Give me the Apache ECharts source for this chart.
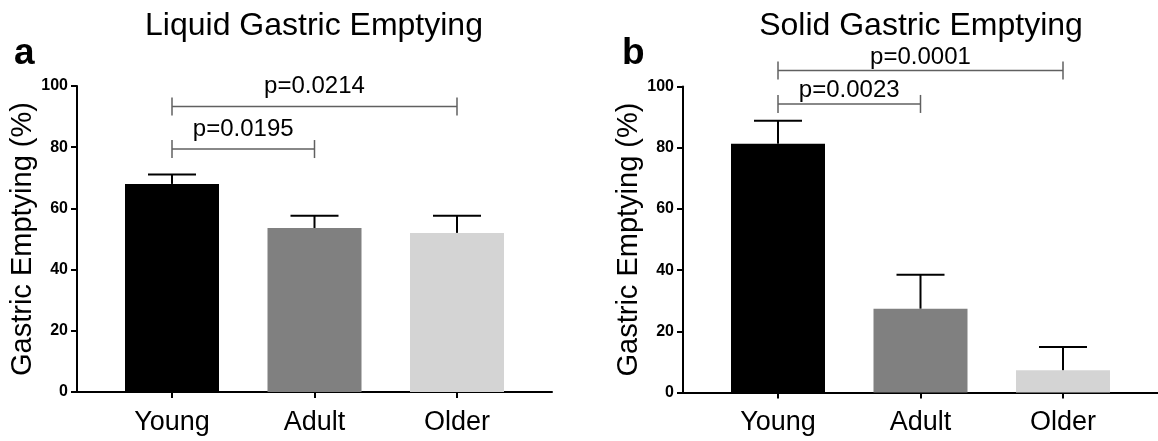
<!DOCTYPE html>
<html><head><meta charset="utf-8">
<script src="https://cdn.jsdelivr.net/npm/echarts@6/dist/echarts.min.js"></script>
<style>html,body{margin:0;padding:0;background:#fff}#c{width:1158px;height:441px}</style>
</head><body><div id="c"></div>
<script>
// ---- data ----
const categories = ['Young', 'Adult', 'Older'];
const liquidMean = [68.0, 53.6, 52.0];
const liquidErr = [3.1, 4.0, 5.6];
const solidMean = [81.3, 27.4, 7.3];
const solidErr = [7.5, 11.1, 7.6];
const yTicks = [0, 20, 40, 60, 80, 100];
// brackets: [from category index, to category index, bracket level (%)]
const liquidBrackets = [[0, 2, 93.3], [0, 1, 79.4]];
const liquidPLabels = ['p=0.0214', 'p=0.0195'];
const solidBrackets = [[0, 2, 105.2], [0, 1, 94.3]];
const solidPLabels = ['p=0.0001', 'p=0.0023'];
const panelTitles = ['Liquid Gastric Emptying', 'Solid Gastric Emptying'];
const panelLetters = ['a', 'b'];
const yName = 'Gastric Emptying (%)';

// ---- styles ----
const FONT = '"Liberation Sans", Arial, Helvetica, sans-serif';
const barColors = ['#000000', '#808080', '#d4d4d4'];

const chart = echarts.init(document.getElementById('c'), null, {renderer: 'canvas'});

function xAxis(gi) {
  return {
    type: 'value', gridIndex: gi, min: -0.6667, max: 2.6667,
    splitLine: {show: false},
    axisLine: {show: true, onZero: false, lineStyle: {color: '#000', width: 2}},
    axisTick: {show: true, customValues: [0, 1, 2], length: 6, lineStyle: {color: '#000', width: 2}},
    axisLabel: {show: true, customValues: [0, 1, 2], margin: 17, color: '#000',
      fontSize: 27, fontFamily: FONT, formatter: v => categories[Math.round(v)] || ''}
  };
}
function yAxis(gi) {
  return {
    type: 'value', gridIndex: gi, min: 0, max: 100, interval: 20,
    name: yName, nameLocation: 'middle', nameRotate: 90, nameGap: 35,
    nameTextStyle: {fontSize: 29, fontFamily: FONT, color: '#000'},
    splitLine: {show: false},
    axisLine: {show: true, onZero: false, lineStyle: {color: '#000', width: 2}},
    axisTick: {show: true, length: 6, lineStyle: {color: '#000', width: 2}},
    axisLabel: {margin: 9, color: '#000', fontSize: 16, fontWeight: 'bold', fontFamily: FONT,
      customValues: yTicks}
  };
}
function barSeries(gi, means) {
  return {
    type: 'bar', xAxisIndex: gi, yAxisIndex: gi, barWidth: 94, silent: true,
    data: means.map((m, i) => ({value: [i, m], itemStyle: {color: barColors[i]}}))
  };
}
function errSeries(gi, means, errs) {
  return {
    type: 'custom', xAxisIndex: gi, yAxisIndex: gi, clip: false, silent: true, z: 5,
    data: means.map((m, i) => [i, m, errs[i]]),
    renderItem: (params, api) => {
      const x = api.value(0), m = api.value(1), e = api.value(2);
      const p0 = api.coord([x, m]), p1 = api.coord([x, m + e]);
      const half = 24;
      const st = {stroke: '#000', lineWidth: 2};
      return {type: 'group', children: [
        {type: 'line', shape: {x1: p0[0], y1: p0[1], x2: p1[0], y2: p1[1]}, style: st},
        {type: 'line', shape: {x1: p1[0] - half, y1: p1[1], x2: p1[0] + half, y2: p1[1]}, style: st}
      ]};
    }
  };
}
function bracketSeries(gi, brackets, labels, textGap) {
  return {
    type: 'custom', xAxisIndex: gi, yAxisIndex: gi, clip: false, silent: true, z: 6,
    data: brackets,
    renderItem: (params, api) => {
      const a = api.coord([api.value(0), api.value(2)]);
      const b = api.coord([api.value(1), api.value(2)]);
      const st = {stroke: '#606060', lineWidth: 1.5};
      const t = 9;
      const fs = 24;
      return {type: 'group', children: [
        {type: 'line', shape: {x1: a[0], y1: a[1], x2: b[0], y2: b[1]}, style: st},
        {type: 'line', shape: {x1: a[0], y1: a[1] - t, x2: a[0], y2: a[1] + t}, style: st},
        {type: 'line', shape: {x1: b[0], y1: b[1] - t, x2: b[0], y2: b[1] + t}, style: st},
        {type: 'text', x: (a[0] + b[0]) / 2, y: a[1] - textGap - 0.36 * fs,
          style: {text: labels[params.dataIndex], fill: '#000', font: fs + 'px ' + FONT,
            align: 'center', textAlign: 'center', verticalAlign: 'middle', textVerticalAlign: 'middle'}}
      ]};
    }
  };
}

const option = {
  animation: false,
  backgroundColor: '#fff',
  grid: [
    {left: 77, top: 86, width: 475, height: 306},
    {left: 683, top: 86.5, width: 476, height: 306}
  ],
  xAxis: [xAxis(0), xAxis(1)],
  yAxis: [yAxis(0), yAxis(1)],
  series: [
    barSeries(0, liquidMean), errSeries(0, liquidMean, liquidErr), bracketSeries(0, liquidBrackets, liquidPLabels, 11),
    barSeries(1, solidMean), errSeries(1, solidMean, solidErr), bracketSeries(1, solidBrackets, solidPLabels, 5)
  ],
  graphic: [
    {type: 'text', x: 314, y: 26, style: {text: panelTitles[0], font: '32px ' + FONT, fill: '#000',
      align: 'center', textAlign: 'center', verticalAlign: 'middle', textVerticalAlign: 'middle'}},
    {type: 'text', x: 921, y: 26, style: {text: panelTitles[1], font: '32px ' + FONT, fill: '#000',
      align: 'center', textAlign: 'center', verticalAlign: 'middle', textVerticalAlign: 'middle'}},
    {type: 'text', x: 14, y: 54, style: {text: panelLetters[0], font: 'bold 37px ' + FONT, fill: '#000',
      align: 'left', textAlign: 'left', verticalAlign: 'middle', textVerticalAlign: 'middle'}},
    {type: 'text', x: 622, y: 54, style: {text: panelLetters[1], font: 'bold 37px ' + FONT, fill: '#000',
      align: 'left', textAlign: 'left', verticalAlign: 'middle', textVerticalAlign: 'middle'}}
  ]
};
chart.setOption(option);
</script>
</body></html>
